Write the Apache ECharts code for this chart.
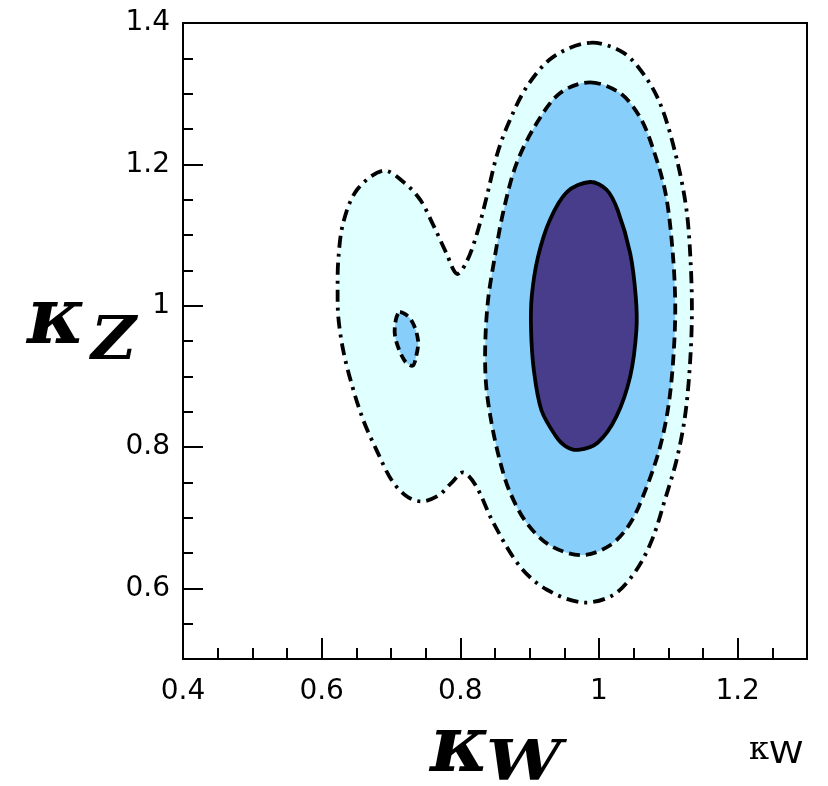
<!DOCTYPE html>
<html><head><meta charset="utf-8">
<script src="https://cdn.jsdelivr.net/npm/echarts@6/dist/echarts.min.js"></script>
<style>html,body{margin:0;padding:0;background:#fff}#c{width:828px;height:786px}</style>
</head><body><div id="c"></div>
<script>
// tick labels
const xTicks = [0.4, 0.6, 0.8, 1.0, 1.2];
const yTicks = [0.6, 0.8, 1.0, 1.2, 1.4];

// contour lines [kappa_W, kappa_Z]
const contourOuter = [
  [0.987,1.372],[1.035,1.358],[1.069,1.321],[1.091,1.279],[1.112,1.208],[1.126,1.137],
  [1.132,1.065],[1.134,0.989],[1.131,0.914],[1.124,0.843],[1.112,0.782],[1.095,0.725],
  [1.077,0.670],[1.054,0.626],[1.021,0.591],[0.977,0.580],[0.925,0.598],[0.886,0.631],
  [0.848,0.692],[0.822,0.746],[0.804,0.764],[0.788,0.750],[0.768,0.731],[0.744,0.723],
  [0.723,0.730],[0.701,0.753],[0.679,0.796],[0.660,0.838],[0.643,0.890],[0.631,0.937],
  [0.624,0.984],[0.623,1.022],[0.624,1.065],[0.631,1.117],[0.651,1.164],[0.689,1.191],
  [0.718,1.175],[0.742,1.150],[0.761,1.114],[0.780,1.074],[0.795,1.045],[0.809,1.062],
  [0.824,1.102],[0.838,1.154],[0.853,1.214],[0.869,1.257],[0.896,1.310],[0.934,1.352]
];
const contourMiddle = [
  [0.987,1.316],[1.030,1.301],[1.059,1.267],[1.078,1.222],[1.096,1.159],[1.106,1.079],
  [1.110,0.999],[1.107,0.923],[1.100,0.857],[1.088,0.800],[1.069,0.744],[1.045,0.692],
  [1.016,0.661],[0.975,0.647],[0.929,0.661],[0.896,0.692],[0.872,0.735],[0.858,0.777],
  [0.845,0.834],[0.837,0.890],[0.836,0.947],[0.840,1.008],[0.849,1.065],[0.862,1.133],
  [0.881,1.201],[0.910,1.258],[0.944,1.301]
];
const contourIsland = [
  [0.713,0.991],[0.729,0.980],[0.739,0.951],[0.736,0.927],[0.731,0.915],[0.719,0.923],
  [0.706,0.956],[0.707,0.980]
];
const contourInner = [
  [0.987,1.175],[1.011,1.164],[1.027,1.135],[1.045,1.074],[1.053,1.013],[1.054,0.966],
  [1.045,0.900],[1.025,0.843],[0.998,0.806],[0.970,0.796],[0.952,0.801],[0.938,0.815],
  [0.917,0.852],[0.906,0.909],[0.902,0.966],[0.903,1.013],[0.912,1.069],[0.929,1.121],
  [0.954,1.161]
];

function contourSeries(name, pts, fill, dash) {
  return {
    type: 'custom', name: name, coordinateSystem: 'cartesian2d',
    xAxisIndex: 0, yAxisIndex: 0, data: [[1, 1]], silent: true,
    renderItem: function (params, api) {
      const points = pts.map(function (p) { return api.coord(p); });
      return {
        type: 'polygon',
        shape: { points: points, smooth: 0.33 },
        style: { fill: fill, stroke: '#000', lineWidth: 3.8, lineDash: dash, lineCap: 'butt' }
      };
    }
  };
}

const chart = echarts.init(document.getElementById('c'), null, { renderer: 'canvas' });
const lbl = { fontSize: 28, fontFamily: 'DejaVu Sans', color: '#000' };
chart.setOption({
  animation: false,
  backgroundColor: '#fff',
  grid: { left: 183, right: 21, top: 23, bottom: 127, show: true, borderColor: '#000', borderWidth: 2, backgroundColor: 'transparent' },
  xAxis: [
    { type: 'value', min: 0.4, max: 1.3, interval: 0.2, position: 'bottom',
      axisLine: { show: true, onZero: false, lineStyle: { color: '#000', width: 2 } },
      axisTick: { show: true, inside: true, length: 21, customValues: xTicks, lineStyle: { color: '#000', width: 2 } },
      axisLabel: Object.assign({ customValues: xTicks, margin: 19, formatter: function (v) { return String(+(+v).toFixed(2)); } }, lbl),
      splitLine: { show: false } },
    { type: 'value', min: 0.4, max: 1.3, interval: 0.05, position: 'bottom',
      axisLine: { show: false }, axisLabel: { show: false }, splitLine: { show: false },
      axisTick: { show: true, inside: true, length: 11, lineStyle: { color: '#000', width: 2 } } }
  ],
  yAxis: [
    { type: 'value', min: 0.5, max: 1.4, position: 'left',
      axisLine: { show: true, onZero: false, lineStyle: { color: '#000', width: 2 } },
      axisTick: { show: true, inside: true, length: 20, customValues: yTicks, lineStyle: { color: '#000', width: 2 } },
      axisLabel: Object.assign({ customValues: yTicks, margin: 13, formatter: function (v) { return String(+(+v).toFixed(2)); } }, lbl),
      splitLine: { show: false } },
    { type: 'value', min: 0.5, max: 1.4, interval: 0.05, position: 'left',
      axisLine: { show: false }, axisLabel: { show: false }, splitLine: { show: false },
      axisTick: { show: true, inside: true, length: 10, lineStyle: { color: '#000', width: 2 } } }
  ],
  series: [
    contourSeries('outer', contourOuter, '#E0FFFF', [12, 6, 3, 6]),
    contourSeries('middle', contourMiddle, '#87CEFA', [11, 6]),
    contourSeries('island', contourIsland, '#87CEFA', [9, 5]),
    contourSeries('inner', contourInner, '#483D8B', null)
  ],
  graphic: [
    { type: 'text', x: 430, y: 751, scaleX: 1.02, style: { text: 'κ', font: 'italic bold 78px "DejaVu Serif"', fill: '#000', align: 'left', verticalAlign: 'middle' } },
    { type: 'text', x: 486, y: 765, scaleX: 1.2, style: { text: 'W', font: 'italic bold 56px "DejaVu Serif"', fill: '#000', align: 'left', verticalAlign: 'middle' } },
    { type: 'text', x: 27, y: 323, style: { text: 'κ', font: 'italic bold 78px "DejaVu Serif"', fill: '#000', align: 'left', verticalAlign: 'middle' } },
    { type: 'text', x: 91, y: 344, scaleX: 1.05, style: { text: 'Z', font: 'italic bold 59px "DejaVu Serif"', fill: '#000', align: 'left', verticalAlign: 'middle' } },
    { type: 'text', x: 749, y: 751, style: { text: 'κ', font: '32px "DejaVu Serif"', fill: '#000', align: 'left', verticalAlign: 'middle' } },
    { type: 'text', x: 769, y: 755, scaleX: 1.12, style: { text: 'W', font: '31px "DejaVu Sans"', fill: '#000', align: 'left', verticalAlign: 'middle' } }
  ]
});
</script></body></html>
